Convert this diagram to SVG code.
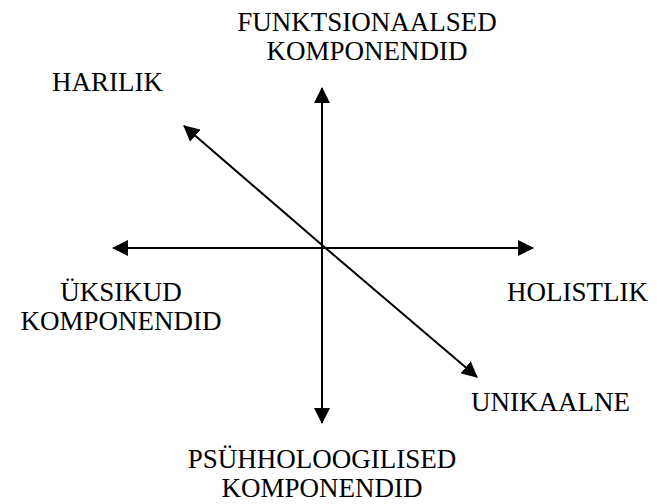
<svg xmlns="http://www.w3.org/2000/svg" width="657" height="504" viewBox="0 0 657 504">
<style>
text{font-family:"Liberation Serif","Times New Roman",serif;font-size:27px;fill:#000}
.ax{stroke:#000;stroke-width:2;fill:none}
</style>
<defs>
<marker id="ah" markerWidth="8" markerHeight="8" refX="7.5" refY="4" orient="auto" markerUnits="strokeWidth"><path d="M0,0 L8,4 L0,8 Z" fill="#000"/></marker>
</defs>
<rect width="657" height="504" fill="#fff"/>
<g id="connectors">
<line class="ax" x1="322" y1="248" x2="322" y2="88" marker-end="url(#ah)"/>
<line class="ax" x1="322" y1="248" x2="322" y2="423" marker-end="url(#ah)"/>
<line class="ax" x1="322" y1="248" x2="113" y2="248" marker-end="url(#ah)"/>
<line class="ax" x1="322" y1="248" x2="533" y2="248" marker-end="url(#ah)"/>
<line class="ax" x1="322" y1="245" x2="184" y2="126" marker-end="url(#ah)"/>
<line class="ax" x1="322" y1="245" x2="477" y2="377" marker-end="url(#ah)"/>
</g>
<g id="funktsionaalsed"><text x="367" y="31" text-anchor="middle">FUNKTSIONAALSED</text><text x="367" y="60" text-anchor="middle">KOMPONENDID</text></g>
<g id="harilik"><text x="52" y="91">HARILIK</text></g>
<g id="uksikud"><text x="121" y="301" text-anchor="middle">ÜKSIKUD</text><text x="121" y="330" text-anchor="middle">KOMPONENDID</text></g>
<g id="holistlik"><text x="507" y="301">HOLISTLIK</text></g>
<g id="unikaalne"><text x="471" y="411">UNIKAALNE</text></g>
<g id="psuhholoogilised"><text x="322" y="468" text-anchor="middle">PSÜHHOLOOGILISED</text><text x="322" y="497" text-anchor="middle">KOMPONENDID</text></g>
</svg>
